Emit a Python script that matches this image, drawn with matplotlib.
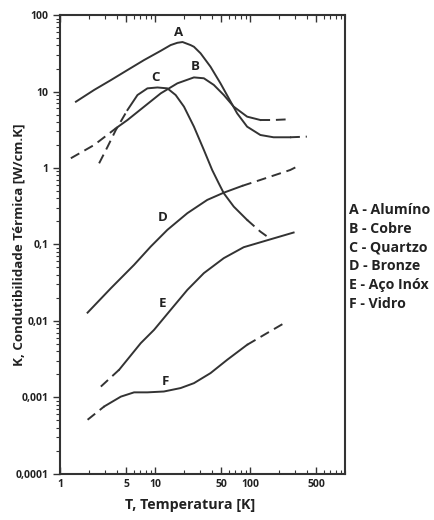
import matplotlib
matplotlib.use("Agg")
import matplotlib.pyplot as plt
from matplotlib.ticker import FixedLocator, LogLocator, NullFormatter

plt.rcParams['font.family'] = ['Open Sans', 'DejaVu Sans']

# temperatura [K] e condutibilidade [W/cm.K]
A_T = [1.47, 2.29, 3.43, 5.13, 7.67, 11.5, 14.6, 17.2, 19.5, 23.7, 25.7, 30.2, 38.4, 48.9, 59.8, 73.2, 93.3, 128.6, 177, 265, 397]
A_K = [7.36, 10.5, 14.1, 19.1, 25.8, 34.1, 40.5, 43.4, 44.4, 40.5, 38.5, 31.6, 21.1, 12.8, 8.15, 5.19, 3.47, 2.70, 2.52, 2.52, 2.57]
B_T = [1.30, 2.29, 3.87, 5.13, 7.67, 11.5, 17.2, 25.7, 32.7, 41.6, 53.0, 67.5, 93.3, 128.6, 177, 255]
B_K = [1.34, 2.00, 3.30, 4.24, 6.33, 9.47, 12.8, 15.3, 14.9, 12.2, 9.0, 6.33, 4.69, 4.24, 4.24, 4.33]
C_T = [2.58, 3.17, 3.87, 5.13, 6.54, 8.32, 10.6, 13.5, 16.5, 20.2, 25.7, 32.7, 40.0, 46.9, 53.0, 67.5, 93.3, 128.6, 166]
C_K = [1.15, 1.90, 3.14, 5.73, 9.0, 11.0, 11.3, 11.0, 9.0, 6.33, 3.47, 1.72, 0.94, 0.63, 0.467, 0.312, 0.209, 0.147, 0.117]
D_T = [1.95, 3.43, 6.02, 9.01, 13.5, 21.9, 35.5, 53.0, 82.6, 128.6, 265, 312]
D_K = [0.0128, 0.0267, 0.0540, 0.0936, 0.155, 0.256, 0.382, 0.475, 0.582, 0.697, 0.94, 1.04]
E_T = [2.69, 4.19, 7.08, 9.77, 14.6, 21.9, 32.7, 53.0, 85.9, 166, 288]
E_K = [0.00138, 0.00229, 0.00511, 0.00762, 0.0139, 0.0254, 0.0421, 0.0661, 0.0919, 0.117, 0.143]
F_T = [1.95, 2.92, 4.37, 6.02, 8.32, 12.4, 18.6, 25.7, 38.4, 57.5, 93.3, 151, 245]
F_K = [0.000508, 0.000759, 0.00102, 0.00116, 0.00116, 0.00119, 0.00132, 0.00153, 0.00207, 0.00309, 0.00486, 0.00690, 0.00979]

curves = {'A': (A_T, A_K), 'B': (B_T, B_K), 'C': (C_T, C_K),
          'D': (D_T, D_K), 'E': (E_T, E_K), 'F': (F_T, F_K)}
# trechos (indice inicial, indice final, tracejado?)
trechos = {
    'A': [(0, 19, False), (19, 20, True)],
    'B': [(0, 2, True), (2, 13, False), (13, 15, True)],
    'C': [(0, 3, True), (3, 16, False), (16, 18, True)],
    'D': [(0, 8, False), (8, 11, True)],
    'E': [(0, 1, True), (1, 10, False)],
    'F': [(0, 1, True), (1, 10, False), (10, 12, True)],
}
rotulos_pos = {'A': (17.9, 58.8), 'B': (26.7, 21.1), 'C': (10.2, 15.3),
               'D': (11.9, 0.224), 'E': (11.9, 0.0167), 'F': (12.9, 0.00161)}
legenda = ['A - Alumíno', 'B - Cobre', 'C - Quartzo', 'D - Bronze', 'E - Aço Inóx', 'F - Vidro']

x_ticks = [1, 5, 10, 50, 100, 500]
x_labels = ['1', '5', '10', '50', '100', '500']
y_ticks = [0.0001, 0.001, 0.01, 0.1, 1, 10, 100]
y_labels = ['0,0001', '0,001', '0,01', '0,1', '1', '10', '100']

cor = '#333333'
fig = plt.figure(figsize=(4.35, 5.2), dpi=100)
ax = fig.add_axes([0.138, 0.089, 0.655, 0.882])

for nome in curves:
    T, K = curves[nome]
    for i0, i1, tracejado in trechos[nome]:
        ls = (0, (5, 3)) if tracejado else '-'
        ax.plot(T[i0:i1 + 1], K[i0:i1 + 1], color=cor, lw=1.4, ls=ls,
                solid_joinstyle='round', dash_joinstyle='round')
    ax.text(rotulos_pos[nome][0], rotulos_pos[nome][1], nome, fontsize=9.5,
            fontweight='bold', color='#222222', ha='center', va='center')

ax.set_xscale('log')
ax.set_yscale('log')
ax.set_xlim(1, 1000)
ax.set_ylim(0.0001, 100)

ax.xaxis.set_major_locator(FixedLocator(x_ticks))
ax.set_xticklabels(x_labels)
ax.xaxis.set_minor_locator(LogLocator(base=10, subs=range(1, 10)))
ax.xaxis.set_minor_formatter(NullFormatter())
ax.yaxis.set_major_locator(FixedLocator(y_ticks))
ax.set_yticklabels(y_labels)
ax.yaxis.set_minor_locator(LogLocator(base=10, subs=range(1, 10)))
ax.yaxis.set_minor_formatter(NullFormatter())

ax.tick_params(axis='x', which='both', direction='in', top=True, bottom=True, color=cor)
ax.tick_params(axis='x', which='major', length=5, width=1)
ax.tick_params(axis='x', which='minor', length=3, width=0.8)
ax.tick_params(axis='y', which='both', direction='out', right=False, color=cor)
ax.tick_params(axis='y', which='major', length=5, width=1)
ax.tick_params(axis='y', which='minor', length=3, width=0.8)
for lbl in ax.get_xticklabels() + ax.get_yticklabels():
    lbl.set_fontsize(7.5)
    lbl.set_fontweight('bold')
    lbl.set_color('#222222')

for s in ax.spines.values():
    s.set_linewidth(1.5)
    s.set_color(cor)

ax.set_xlabel('T, Temperatura [K]', fontsize=10.3, fontweight='bold', color='#222222', va='center')
ax.xaxis.set_label_coords(0.456, -0.0675)
ax.set_ylabel('K, Condutibilidade Térmica [W/cm.K]', fontsize=9.6, fontweight='bold', color='#222222', va='center')
ax.yaxis.set_label_coords(-0.144, 0.499)

for i, txt in enumerate(legenda):
    fig.text(349 / 435, 1 - (210 + i * 18.7) / 520, txt, fontsize=10.2, fontweight='bold',
             color='#222222', va='center', ha='left')

fig.savefig('out.png', dpi=100, facecolor='white')
